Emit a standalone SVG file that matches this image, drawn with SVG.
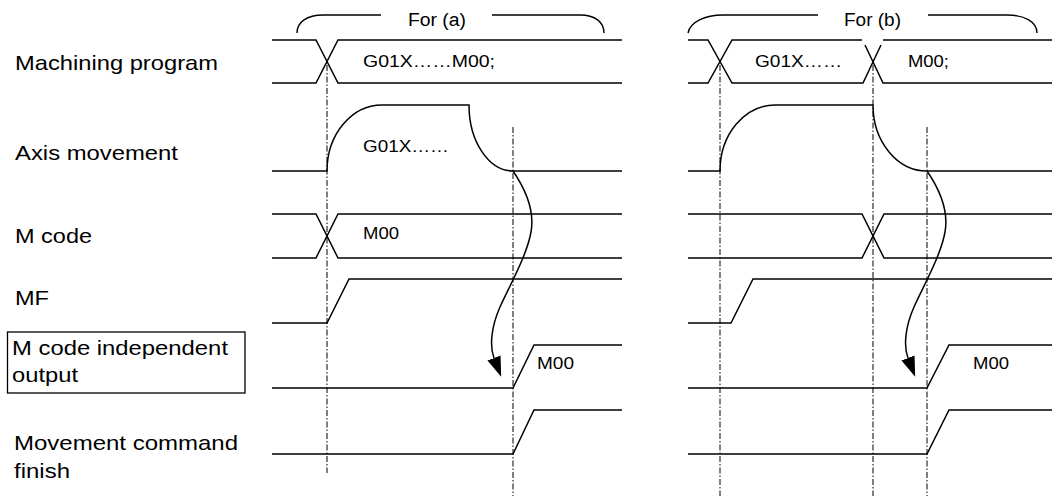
<svg xmlns="http://www.w3.org/2000/svg" width="1052" height="496" viewBox="0 0 1052 496">
<style>
.sig{fill:none;stroke:#000;stroke-width:1.5}
.br{fill:none;stroke:#000;stroke-width:1.4}
.dd{fill:none;stroke:#000;stroke-width:1;stroke-dasharray:6 2 1.5 2}
.arr{fill:none;stroke:#000;stroke-width:1.5}
.lbl{font-family:"Liberation Sans",Arial,sans-serif;font-size:21px;fill:#000}
.sm{font-family:"Liberation Sans",Arial,sans-serif;font-size:16px;fill:#000}
.hd{font-family:"Liberation Sans",Arial,sans-serif;font-size:18px;fill:#000}
</style>
<defs>
<marker id="ah" markerUnits="userSpaceOnUse" markerWidth="20" markerHeight="14" refX="0" refY="7" orient="auto">
<path d="M0,0 L20,7 L0,14 z" fill="#000"/>
</marker>
</defs>
<rect width="1052" height="496" fill="#fff"/>

<g id="labels">
<text class="lbl" x="15" y="70" textLength="203" lengthAdjust="spacingAndGlyphs">Machining program</text>
<text class="lbl" x="15" y="160" textLength="163" lengthAdjust="spacingAndGlyphs">Axis movement</text>
<text class="lbl" x="15" y="243" textLength="77" lengthAdjust="spacingAndGlyphs">M code</text>
<text class="lbl" x="15" y="305" textLength="34" lengthAdjust="spacingAndGlyphs">MF</text>
</g>
<g id="label-mci">
<rect x="7.5" y="332" width="237.5" height="61" fill="none" stroke="#000" stroke-width="1.3"/>
<text class="lbl" x="12" y="355" textLength="216" lengthAdjust="spacingAndGlyphs">M code independent</text>
<text class="lbl" x="12" y="382" textLength="66" lengthAdjust="spacingAndGlyphs">output</text>
</g>
<g id="label-mcf">
<text class="lbl" x="14" y="450" textLength="224" lengthAdjust="spacingAndGlyphs">Movement command</text>
<text class="lbl" x="14" y="478" textLength="56" lengthAdjust="spacingAndGlyphs">finish</text>
</g>

<g id="brace-a">
<path class="br" d="M297,33 C297,22 307,15 323,15 H381 M492,15 H580 C595,15 604,22 604,33"/>
<text class="hd" x="408" y="26" textLength="58" lengthAdjust="spacingAndGlyphs">For (a)</text>
</g>
<g id="brace-b">
<path class="br" d="M688,33 C690,22 705,15 723,15 H818 M928,15 H1007 C1025,15 1037,22 1037,33"/>
<text class="hd" x="844" y="26" textLength="57" lengthAdjust="spacingAndGlyphs">For (b)</text>
</g>

<g id="panel-a">
<g id="a-program">
<path class="sig" d="M272,40 H316 L338,83 H622 M272,83 H316 L338,40 H622"/>
<text class="sm" x="363" y="67" textLength="132" lengthAdjust="spacingAndGlyphs">G01X……M00;</text>
</g>
<g id="a-axis">
<path class="sig" d="M272,171 H327 A55,66 0 0 1 382,105 H469 A44,66 0 0 0 513,171 H622"/>
<text class="sm" x="363" y="152" textLength="86" lengthAdjust="spacingAndGlyphs">G01X……</text>
</g>
<g id="a-mcode">
<path class="sig" d="M272,214 H316 L338,258 H622 M272,258 H316 L338,214 H622"/>
<text class="sm" x="363" y="239" textLength="36" lengthAdjust="spacingAndGlyphs">M00</text>
</g>
<g id="a-mf">
<path class="sig" d="M272,323 H327 L349,279 H622"/>
</g>
<g id="a-mci">
<path class="sig" d="M272,388 H513 L534,345 H622"/>
<text class="sm" x="537" y="369" textLength="37" lengthAdjust="spacingAndGlyphs">M00</text>
</g>
<g id="a-mcf">
<path class="sig" d="M272,454 H513 L534,410 H622"/>
</g>
</g>

<g id="panel-b">
<g id="b-program">
<path class="sig" d="M688,40 H708 L732,83 H863 L881,45 M688,83 H708 L732,40 H862 M865,45 L883,83 H1052 M883,40 H1052"/>
<text class="sm" x="755" y="67" textLength="87" lengthAdjust="spacingAndGlyphs">G01X……</text>
<text class="sm" x="908" y="67" textLength="41" lengthAdjust="spacingAndGlyphs">M00;</text>
</g>
<g id="b-axis">
<path class="sig" d="M688,171 H720 A55,66 0 0 1 775,105 H873 A54,66 0 0 0 927,171 H1052"/>
</g>
<g id="b-mcode">
<path class="sig" d="M688,214 H862 L884,258 H1052 M688,258 H862 L884,214 H1052"/>
</g>
<g id="b-mf">
<path class="sig" d="M688,323 H731 L753,279 H1052"/>
</g>
<g id="b-mci">
<path class="sig" d="M688,388 H927 L949,345 H1052"/>
<text class="sm" x="973" y="369" textLength="36" lengthAdjust="spacingAndGlyphs">M00</text>
</g>
<g id="b-mcf">
<path class="sig" d="M688,454 H927 L949,410 H1052"/>
</g>
</g>

<g id="connectors">
<path class="dd" d="M327,65 V473 M513,127 V496 M720,65 V496 M873,65 V496 M927,127 V496"/>
<path class="arr" marker-end="url(#ah)" d="M513,171 C526,190 535,210 531,232 C527,255 510,285 500,307 C492,325 489,345 494,358"/>
<path class="arr" marker-end="url(#ah)" d="M927,171 C940,190 949,210 945,232 C941,255 924,285 914,307 C906,325 903,345 908,358"/>
</g>
</svg>
